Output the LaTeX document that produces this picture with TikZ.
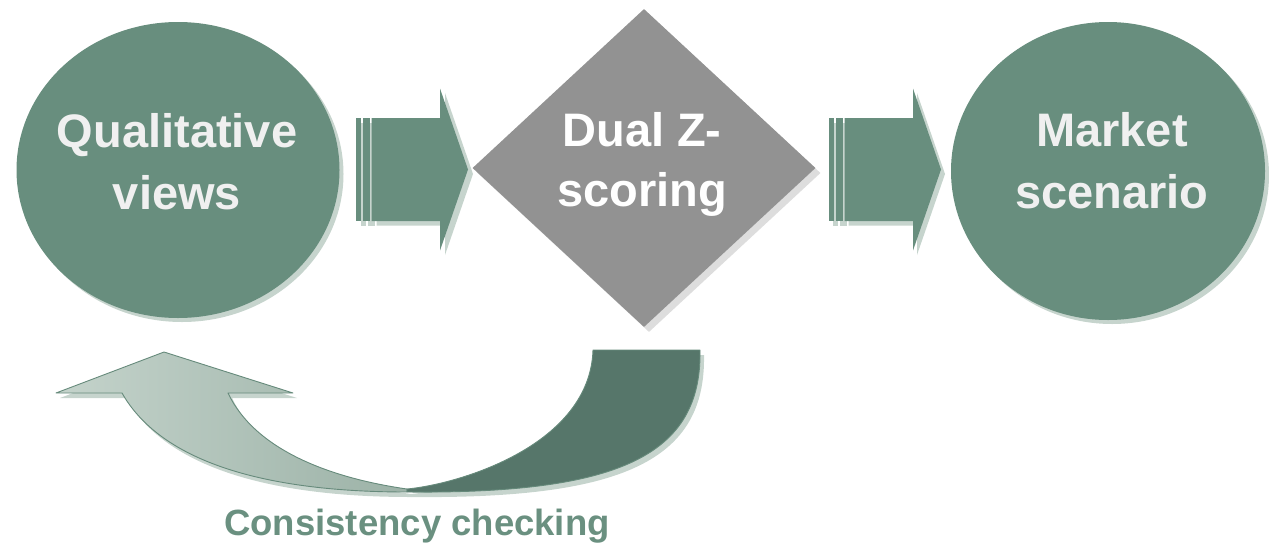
\documentclass[tikz,border=0pt]{standalone}
\usepackage{fontspec}
\setmainfont{Liberation Sans}
\usetikzlibrary{shapes.geometric}

\definecolor{sage}{HTML}{688E7E}
\definecolor{sageshadow}{HTML}{C6D4CD}
\definecolor{stone}{HTML}{929292}
\definecolor{stoneshadow}{HTML}{DDDDDD}
\definecolor{paletext}{HTML}{F0F0F0}
\definecolor{darksage}{HTML}{56766A}
\definecolor{mistleft}{HTML}{C4D3CB}
\definecolor{mistright}{HTML}{9CB2A7}
\definecolor{rim}{HTML}{668A7B}
\definecolor{labelsage}{HTML}{6A9080}

\tikzset{
  bubble/.style={ellipse, inner sep=0pt, fill=sage},
  bubbleshade/.style={ellipse, inner sep=0pt, fill=sageshadow},
  bigtext/.style={font=\bfseries\fontsize{47}{62}\selectfont, align=center, inner sep=0pt},
  % striped block arrow, origin at the left stripe, mid-height
  pics/blockarrow/.style={code={
    \fill[#1] (0,-51.5) rectangle (5,51.5);
    \fill[#1] (6.5,-51.5) rectangle (14,51.5);
    \fill[#1] (15.5,-51.5) -- (84,-51.5) -- (84,-81) -- (112,0)
              -- (84,81) -- (84,51.5) -- (15.5,51.5) -- cycle;
  }},
  % curved return arrow, light (front) and dark (back) halves
  pics/lighthalf/.style={code={
    \path[#1] (164,352) -- (293,393) -- (228,393)
      .. controls (255,450) and (330,478) .. (407,489)
      -- (407,492)
      .. controls (260,492) and (160,460) .. (122,393)
      -- (56,393) -- cycle;
  }},
  pics/darkhalf/.style={code={
    \path[#1] (593,350) -- (700,350)
      .. controls (702,455) and (620,494) .. (407,492)
      -- (407,489)
      .. controls (460,484) and (590,445) .. (593,350) -- cycle;
  }}
}

\begin{document}
\begin{tikzpicture}[x=1pt,y=-1pt]
\useasboundingbox (0,0) rectangle (1269,544);

% left bubble
\node[bubbleshade, minimum width=323pt, minimum height=296pt] (qualshade) at (182,174) {};
\node[bubble, minimum width=323pt, minimum height=296pt] (qual) at (178,170) {};
\node[bigtext, text=paletext] (qualtext) at (177,162) {Qualitative\\views};

% centre diamond
\node[diamond, aspect=1.08, inner sep=0pt, fill=stoneshadow,
      minimum width=343pt, minimum height=318pt] (dualshade) at (649,173) {};
\node[diamond, aspect=1.08, inner sep=0pt, fill=stone,
      minimum width=343pt, minimum height=318pt] (dual) at (644,168) {};
\node[bigtext, text=white, font=\bfseries\fontsize{47}{60}\selectfont] (dualtext) at (642,164) {Dual Z-\\scoring};

% right bubble
\node[bubbleshade, minimum width=314pt, minimum height=298pt] (marketshade) at (1112,175) {};
\node[bubble, minimum width=314pt, minimum height=298pt] (market) at (1108,171) {};
\node[bigtext, text=paletext] (markettext) at (1112,161) {Market\\scenario};

% block arrows between the stages
\pic at (361,174) {blockarrow=sageshadow};
\pic at (356,169.5) {blockarrow=sage};
\pic at (833,174) {blockarrow=sageshadow};
\pic at (829,169.5) {blockarrow=sage};

% curved feedback arrow
\begin{scope}[shift={(4,5)}]
  \pic {lighthalf={fill=sageshadow}};
  \pic {darkhalf={fill=sageshadow}};
\end{scope}
\pic {lighthalf={left color=mistleft, right color=mistright, draw=rim, line width=0.9pt, line join=round}};
\pic {darkhalf={fill=darksage, draw=rim, line width=0.9pt, line join=round}};

\node[font=\bfseries\fontsize{36.5}{40}\selectfont, text=labelsage, inner sep=0pt, anchor=base]
  (check) at (417,535) {Consistency checking};
\end{tikzpicture}
\end{document}
